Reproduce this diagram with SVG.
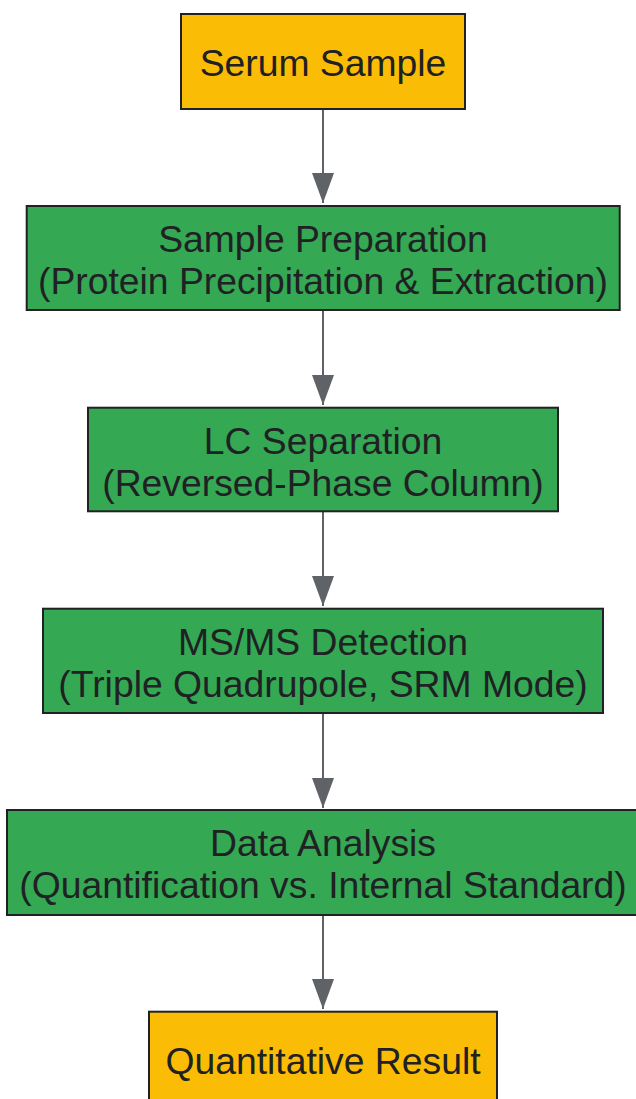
<svg xmlns="http://www.w3.org/2000/svg" width="636" height="1099" viewBox="0 0 636 1099">
<defs>
<style>
.box{stroke:#202124;stroke-width:2}
.y{fill:#FBBC05}
.g{fill:#34A853}
.t{font-family:"Liberation Sans",Arial,sans-serif;font-size:37.3px;fill:#202124;text-anchor:middle}
.e{stroke:#5F6368;stroke-width:2;fill:none}
</style>
<marker id="ah" markerUnits="userSpaceOnUse" markerWidth="31" markerHeight="22" refX="30" refY="11" orient="auto" viewBox="0 0 31 22">
<path d="M0,0 L30,11 L0,22 Z" fill="#5F6368"/>
</marker>
</defs>
<rect width="636" height="1099" fill="#FFFFFF"/>
<g id="connectors">
<line class="e" x1="323" y1="110" x2="323" y2="203" marker-end="url(#ah)"/>
<line class="e" x1="323" y1="311" x2="323" y2="405" marker-end="url(#ah)"/>
<line class="e" x1="323" y1="512" x2="323" y2="606" marker-end="url(#ah)"/>
<line class="e" x1="323" y1="714" x2="323" y2="808" marker-end="url(#ah)"/>
<line class="e" x1="323" y1="916" x2="323" y2="1009" marker-end="url(#ah)"/>
</g>
<g id="serum">
<rect class="box y" x="181" y="14" width="284" height="95"/>
<text class="t" x="323" y="76">Serum Sample</text>
</g>
<g id="prep">
<rect class="box g" x="26.7" y="206" width="593" height="104"/>
<text class="t" x="323" y="252">Sample Preparation</text>
<text class="t" x="323" y="294">(Protein Precipitation &amp; Extraction)</text>
</g>
<g id="lc">
<rect class="box g" x="88" y="407.7" width="470" height="103.6"/>
<text class="t" x="323" y="453.5">LC Separation</text>
<text class="t" x="323" y="495.5">(Reversed-Phase Column)</text>
</g>
<g id="msms">
<rect class="box g" x="43" y="608.7" width="560" height="104.3"/>
<text class="t" x="323" y="655">MS/MS Detection</text>
<text class="t" x="323" y="697">(Triple Quadrupole, SRM Mode)</text>
</g>
<g id="data">
<rect class="box g" x="7" y="810" width="632" height="105"/>
<text class="t" x="323" y="856">Data Analysis</text>
<text class="t" x="323" y="898">(Quantification vs. Internal Standard)</text>
</g>
<g id="result">
<rect class="box y" x="149" y="1011.7" width="348" height="95"/>
<text class="t" x="323" y="1074">Quantitative Result</text>
</g>
</svg>
